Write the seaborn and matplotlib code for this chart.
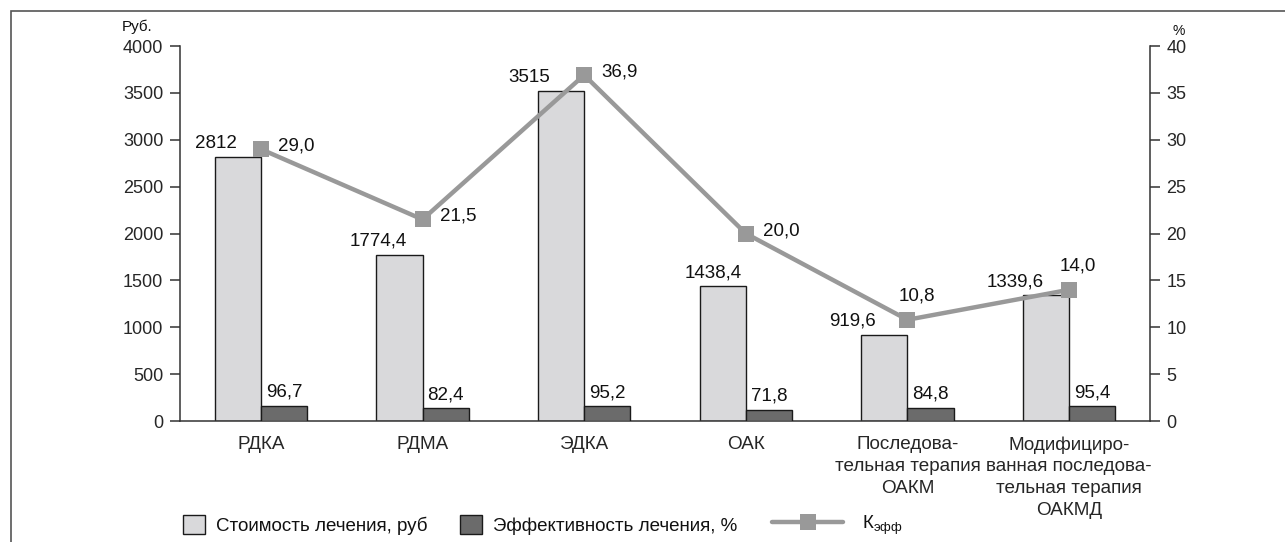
import numpy as np
import pandas as pd
import matplotlib
matplotlib.use("Agg")
import matplotlib.pyplot as plt
from matplotlib.patches import Rectangle, Patch
from matplotlib.lines import Line2D
import seaborn as sns

# --- data -------------------------------------------------------------------
categories = [
    "РДКА",
    "РДМА",
    "ЭДКА",
    "ОАК",
    "Последова-\nтельная терапия\nОАКМ",
    "Модифициро-\nванная последова-\nтельная терапия\nОАКМД",
]
cost_rub = [2812, 1774.4, 3515, 1438.4, 919.6, 1339.6]
efficiency_pct = [96.7, 82.4, 95.2, 71.8, 84.8, 95.4]
k_eff = [29.0, 21.5, 36.9, 20.0, 10.8, 14.0]

cost_name = "Стоимость лечения, руб"
eff_name = "Эффективность лечения, %"
keff_name = r"К$_{\mathregular{эфф}}$"

left_ticks = [0, 500, 1000, 1500, 2000, 2500, 3000, 3500, 4000]
right_ticks = [0, 5, 10, 15, 20, 25, 30, 35, 40]

# --- label placement (pixels) ----------------------------------------------
cost_label_dx = [-22, -21, -32, -10, -32, -31]
keff_label_pos = ["right", "right", "right", "right", "above", "above"]

# --- style ------------------------------------------------------------------
sns.set_theme(style="white")
plt.rcParams["font.family"] = ["Liberation Sans", "DejaVu Sans"]
plt.rcParams["mathtext.fontset"] = "custom"
plt.rcParams["mathtext.rm"] = "Liberation Sans"
plt.rcParams["mathtext.it"] = "Liberation Sans"
plt.rcParams["text.color"] = "#111111"

light = "#d9d9db"
dark = "#6b6b6b"
line_c = "#999999"
axis_c = "#333333"
fs_tick = 13
fs_val = 13.5
fs_cat = 13.6
fs_leg = 13.5

df_cost = pd.DataFrame({"cat": categories, "value": cost_rub, "series": cost_name})
df_eff = pd.DataFrame({"cat": categories, "value": efficiency_pct, "series": eff_name})
df_k = pd.DataFrame({"cat": categories, "k": k_eff})
palette = {cost_name: light, eff_name: dark}

fig = plt.figure(figsize=(12.85, 5.42), dpi=100)
ax = fig.add_axes([0.1401, 0.2232, 0.7548, 0.6919])
ax_eff = ax.twinx()
ax_r = ax.twinx()

bar_kw = dict(x="cat", y="value", hue="series", order=categories,
              hue_order=[cost_name, eff_name], palette=palette, width=0.57,
              dodge=True, edgecolor="#1a1a1a", linewidth=1.0, legend=False,
              errorbar=None)

sns.barplot(data=df_cost, ax=ax, **bar_kw)
sns.barplot(data=df_eff, ax=ax_eff, **bar_kw)
sns.pointplot(data=df_k, x="cat", y="k", order=categories, ax=ax_r,
              color=line_c, markers="s", markersize=11, linewidth=3.2,
              markeredgewidth=0, errorbar=None)

# axes limits
ax.set_ylim(0, 4000)
ax_eff.set_ylim(0, 2400)
ax_r.set_ylim(0, 40)
for a in (ax, ax_eff, ax_r):
    a.set_xlim(-0.5, len(categories) - 0.5)
    a.set_xlabel("")
    a.set_ylabel("")


def bars_of(a):
    rects = [p for p in a.patches if isinstance(p, Rectangle)]
    return sorted(rects, key=lambda p: p.get_x())


# value labels: cost bars
for bar, v, dx in zip(bars_of(ax), cost_rub, cost_label_dx):
    txt = f"{v:g}".replace(".", ",")
    ax.annotate(txt, (bar.get_x() + bar.get_width() / 2, bar.get_height()),
                xytext=(dx, 5), textcoords="offset pixels",
                ha="center", va="bottom", fontsize=fs_val, annotation_clip=False)

# value labels: efficiency bars
for bar, v in zip(bars_of(ax_eff), efficiency_pct):
    txt = f"{v:.1f}".replace(".", ",")
    ax_eff.annotate(txt, (bar.get_x() + bar.get_width() / 2, bar.get_height()),
                    xytext=(0, 5), textcoords="offset pixels",
                    ha="center", va="bottom", fontsize=fs_val,
                    annotation_clip=False)

# value labels: K_eff line
for i, (v, pos) in enumerate(zip(k_eff, keff_label_pos)):
    txt = f"{v:.1f}".replace(".", ",")
    if pos == "right":
        ax_r.annotate(txt, (i, v), xytext=(17, 3), textcoords="offset pixels",
                      ha="left", va="center", fontsize=fs_val)
    else:
        ax_r.annotate(txt, (i, v), xytext=(9, 15), textcoords="offset pixels",
                      ha="center", va="bottom", fontsize=fs_val)

# axes styling: the efficiency axis only carries its bars
for s in ax_eff.spines.values():
    s.set_visible(False)
ax_eff.set_yticks([])
ax_eff.tick_params(axis="both", length=0, labelleft=False, labelright=False)

for a in (ax, ax_r):
    for s in a.spines.values():
        s.set_visible(False)
        s.set_color(axis_c)
        s.set_linewidth(1.1)
ax.spines["left"].set_visible(True)
ax.spines["bottom"].set_visible(True)
ax_r.spines["right"].set_visible(True)

ax.set_yticks(left_ticks)
ax.set_yticklabels([str(t) for t in left_ticks])
ax_r.set_yticks(right_ticks)
ax_r.set_yticklabels([str(t) for t in right_ticks])
ax.tick_params(axis="y", which="both", left=True, direction="out", length=7,
               width=1.1, color=axis_c, pad=5, labelsize=fs_tick)
ax_r.tick_params(axis="y", which="both", right=True, direction="out", length=7,
                 width=1.1, color=axis_c, pad=5, labelsize=fs_tick)
ax.set_xticks(range(len(categories)))
ax.set_xticklabels(categories, fontsize=fs_cat, linespacing=1.36, va="top")
ax.tick_params(axis="x", length=0, pad=11)
ax.grid(False)
ax_r.grid(False)

# axis units
fig.text(0.1066, 0.950, "Руб.", fontsize=11, ha="center", va="center")
fig.text(0.9175, 0.943, "%", fontsize=10, ha="center", va="center")

# legend (three separate entries)
leg_kw = dict(frameon=False, borderpad=0, borderaxespad=0, fontsize=fs_leg,
              loc="center left")
h1 = Patch(facecolor=light, edgecolor="#1a1a1a", linewidth=1.0)
h2 = Patch(facecolor=dark, edgecolor="#1a1a1a", linewidth=1.0)
h3 = Line2D([], [], color=line_c, linewidth=3.2, marker="s", markersize=11,
            markeredgewidth=0)
fig.legend([h1], [cost_name], bbox_to_anchor=(0.1424, 0.0314),
           handlelength=1.15, handleheight=1.15, handletextpad=0.6, **leg_kw)
fig.legend([h2], [eff_name], bbox_to_anchor=(0.358, 0.0314),
           handlelength=1.15, handleheight=1.15, handletextpad=0.6, **leg_kw)
fig.legend([h3], [keff_name], bbox_to_anchor=(0.6008, 0.0314),
           handlelength=3.8, handletextpad=1.0, **leg_kw)

# outer frame
fig.add_artist(Rectangle((0.0082, -0.5), 2.0, 0.9806 + 0.5, fill=False,
                         edgecolor="#555555", linewidth=1.2,
                         transform=fig.transFigure, clip_on=False))

fig.savefig("out.png", dpi=100)
